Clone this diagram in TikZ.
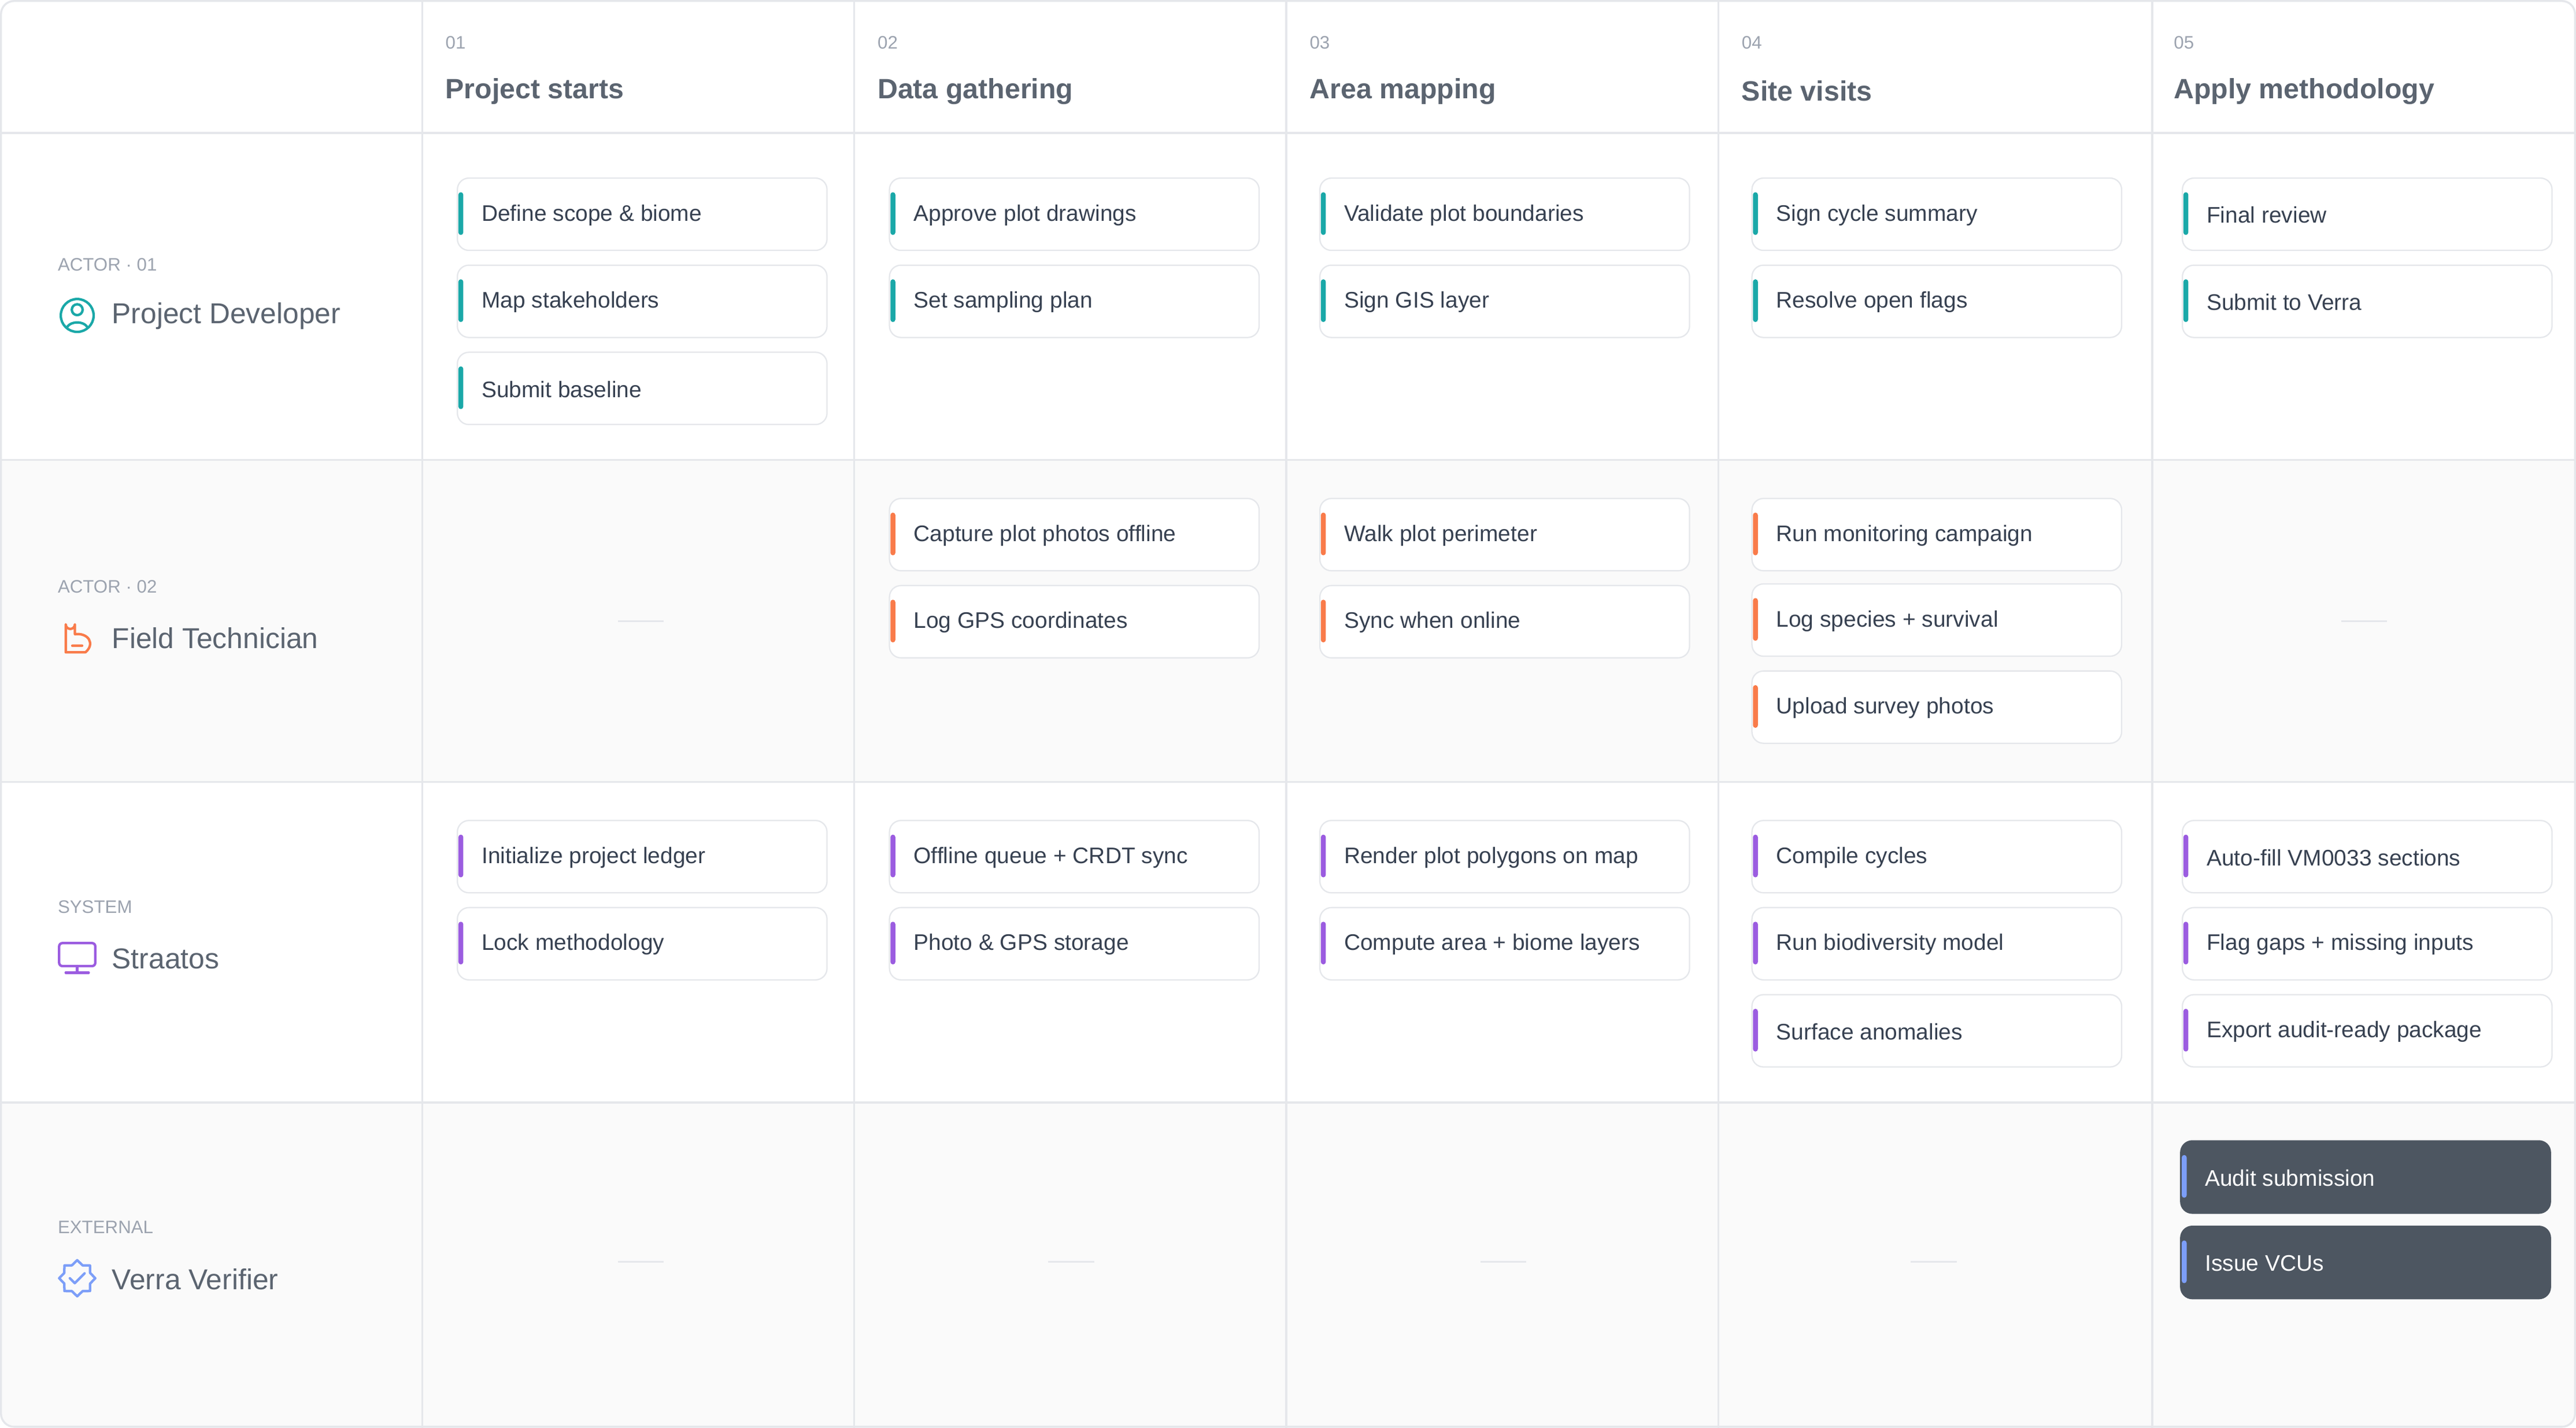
\documentclass[tikz,border=0pt]{standalone}
\usepackage{fontspec}
\setmainfont{Liberation Sans}
\usetikzlibrary{calc}
\definecolor{gridc}{HTML}{E5E7EB}
\definecolor{rowgray}{HTML}{FAFAFA}
\definecolor{txt}{HTML}{374151}
\definecolor{head}{HTML}{5B6470}
\definecolor{muted}{HTML}{9CA3AF}
\definecolor{cteal}{HTML}{1AA8A8}
\definecolor{corange}{HTML}{F97B4A}
\definecolor{cpurple}{HTML}{9B5CE0}
\definecolor{cblue}{HTML}{7C9EF8}
\definecolor{cdark}{HTML}{4D5661}
\tikzset{
 x=1pt,y=-1pt,
 card/.style={draw=gridc,line width=0.8pt,fill=white,rounded corners=7pt,minimum width=225pt,minimum height=44pt,anchor=north west,inner sep=0pt},
 darkcard/.style={card,draw=cdark,fill=cdark},
 ctext/.style={anchor=west,font=\fontsize{13.7}{15}\selectfont,inner sep=0pt},
 num/.style={anchor=west,font=\fontsize{11}{12}\selectfont,text=muted,inner sep=0pt},
 title/.style={anchor=west,font=\fontsize{17.5}{19}\selectfont,text=head,inner sep=0pt},
 emptydash/.style={draw=gridc,line width=1pt},
}
\newcommand{\crd}[7]{% name, x, y, color, text, style, textcolor
 \node[#6] (#1) at (#2,#3) {};
 \fill[#4,rounded corners=1.5pt] ($(#1.north west)+(1,9)$) rectangle ++(3,26);
 \node[ctext,text=#7] (#1t) at ($(#1.west)+(15,0.5)$) {#5};
}
\begin{document}
\begin{tikzpicture}
\useasboundingbox (0,0) rectangle (1568,869);
\fill[white,rounded corners=8pt] (0.5,0.5) rectangle (1567.5,868.5);
\fill[rowgray] (1,280) rectangle (1567,476);
\fill[rowgray,rounded corners=8pt] (1,671) rectangle (1567,868);
\fill[rowgray] (1,671) rectangle (1567,700);
% grid
\foreach \yy in {81,280,476,671} \draw[gridc,line width=1.2pt] (0,\yy) -- (1568,\yy);
\foreach \xx in {257,520,783,1046,1310} \draw[gridc,line width=1.2pt] (\xx,0) -- (\xx,869);
\draw[gridc,line width=1.2pt,rounded corners=8pt] (0.6,0.6) rectangle (1567.4,868.4);
% headers
\foreach \i/\xx/\t in {1/271/Project starts,2/534/Data gathering,3/797/Area mapping,4/1060/Site visits,5/1323/Apply methodology}{
 \node[num] (n\i) at (\xx,26) {0\i};
 \node[title,font=\fontsize{17}{19}\selectfont\bfseries] (h\i) at (\xx,55.5) {\t};
}
% actors
\node[num] (a1) at (35,161) {ACTOR · 01};
\node[title] (a1n) at (68,192.5) {Project Developer};
\node[num] (a2) at (35,357) {ACTOR · 02};
\node[title] (a2n) at (68,388.5) {Field Technician};
\node[num] (a3) at (35,552) {SYSTEM};
\node[title] (a3n) at (68,583.5) {Straatos};
\node[num] (a4) at (35,747) {EXTERNAL};
\node[title] (a4n) at (68,778.5) {Verra Verifier};
% icons
\draw[cteal,line width=1.5pt] (47,192) circle (10);
\draw[cteal,line width=1.5pt] (47,188.5) circle (3.3);
\draw[cteal,line width=1.5pt] (40.5,200) .. controls (42,195) and (52,195) .. (53.5,200);
\draw[corange,line width=1.5pt,line cap=round,line join=round] (40,397) -- (40,380) arc (180:0:2.8) -- (45.6,386) .. controls (54,385) and (58,392) .. (52,397) -- (40,397) (44,393) -- (50,393);
\draw[cpurple,line width=1.5pt,rounded corners=2pt] (36,574) rectangle (58,588);
\draw[cpurple,line width=1.5pt,line cap=round] (40,592) -- (54,592) (47,588) -- (47,592);
\draw[cblue,line width=1.5pt,line join=round] ($(47,778)+(0:11)$) \foreach \k in {1,...,15}{ -- ($(47,778)+(\k*22.5:{11-2.5*mod(\k,2)})$)} -- cycle;
\draw[cblue,line width=1.5pt,line cap=round,line join=round] (42.5,778) -- (45.5,781) -- (51.5,775);
% empty dashes
\draw[emptydash] (376,378) coordinate (e1) -- (404,378) coordinate (e2);
\draw[emptydash] (1425,378) coordinate (e3) -- (1453,378) coordinate (e4);
\foreach \xx/\k in {376/a,638/b,901/c,1163/d}{\draw[emptydash] (\xx,768) coordinate (f\k) -- (\xx+28,768) coordinate (g\k);}
% row 1
\crd{r1a}{278}{108}{cteal}{Define scope \& biome}{card}{txt}
\crd{r1b}{278}{161}{cteal}{Map stakeholders}{card}{txt}
\crd{r1c}{278}{214}{cteal}{Submit baseline}{card}{txt}
\crd{r1d}{541}{108}{cteal}{Approve plot drawings}{card}{txt}
\crd{r1e}{541}{161}{cteal}{Set sampling plan}{card}{txt}
\crd{r1f}{803}{108}{cteal}{Validate plot boundaries}{card}{txt}
\crd{r1g}{803}{161}{cteal}{Sign GIS layer}{card}{txt}
\crd{r1h}{1066}{108}{cteal}{Sign cycle summary}{card}{txt}
\crd{r1i}{1066}{161}{cteal}{Resolve open flags}{card}{txt}
\crd{r1j}{1328}{108}{cteal}{Final review}{card}{txt}
\crd{r1k}{1328}{161}{cteal}{Submit to Verra}{card}{txt}
% row 2
\crd{r2a}{541}{303}{corange}{Capture plot photos offline}{card}{txt}
\crd{r2b}{541}{356}{corange}{Log GPS coordinates}{card}{txt}
\crd{r2c}{803}{303}{corange}{Walk plot perimeter}{card}{txt}
\crd{r2d}{803}{356}{corange}{Sync when online}{card}{txt}
\crd{r2e}{1066}{303}{corange}{Run monitoring campaign}{card}{txt}
\crd{r2f}{1066}{355}{corange}{Log species + survival}{card}{txt}
\crd{r2g}{1066}{408}{corange}{Upload survey photos}{card}{txt}
% row 3
\crd{r3a}{278}{499}{cpurple}{Initialize project ledger}{card}{txt}
\crd{r3b}{278}{552}{cpurple}{Lock methodology}{card}{txt}
\crd{r3c}{541}{499}{cpurple}{Offline queue + CRDT sync}{card}{txt}
\crd{r3d}{541}{552}{cpurple}{Photo \& GPS storage}{card}{txt}
\crd{r3e}{803}{499}{cpurple}{Render plot polygons on map}{card}{txt}
\crd{r3f}{803}{552}{cpurple}{Compute area + biome layers}{card}{txt}
\crd{r3g}{1066}{499}{cpurple}{Compile cycles}{card}{txt}
\crd{r3h}{1066}{552}{cpurple}{Run biodiversity model}{card}{txt}
\crd{r3i}{1066}{605}{cpurple}{Surface anomalies}{card}{txt}
\crd{r3j}{1328}{499}{cpurple}{Auto-fill VM0033 sections}{card}{txt}
\crd{r3k}{1328}{552}{cpurple}{Flag gaps + missing inputs}{card}{txt}
\crd{r3l}{1328}{605}{cpurple}{Export audit-ready package}{card}{txt}
% row 4
\crd{r4a}{1327}{694}{cblue}{Audit submission}{darkcard}{white}
\crd{r4b}{1327}{746}{cblue}{Issue VCUs}{darkcard}{white}
\end{tikzpicture}
\end{document}
